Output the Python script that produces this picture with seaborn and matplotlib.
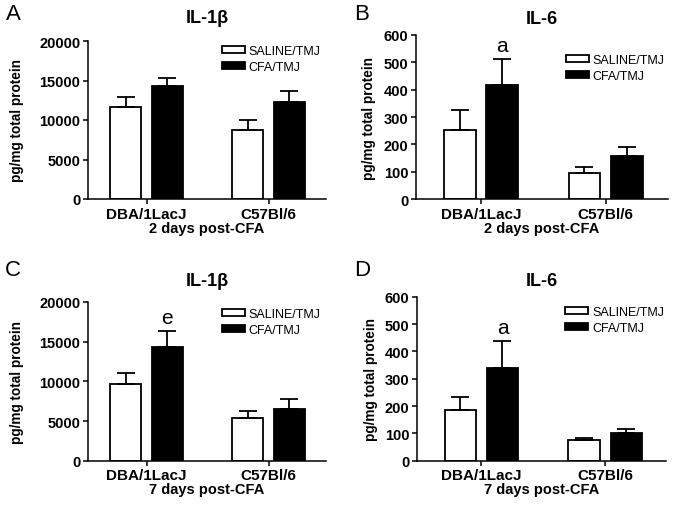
import seaborn as sns
import matplotlib.pyplot as plt
import pandas as pd

# datos
grupos = ["DBA/1LacJ", "C57Bl/6"]
tratamientos = ["SALINE/TMJ", "CFA/TMJ"]

il1b_2d_saline = [11700, 8750]
il1b_2d_saline_err = [1150, 1300]
il1b_2d_cfa = [14250, 12300]
il1b_2d_cfa_err = [1100, 1400]

il6_2d_saline = [253, 96]
il6_2d_saline_err = [74, 23]
il6_2d_cfa = [417, 157]
il6_2d_cfa_err = [94, 35]

il1b_7d_saline = [9700, 5380]
il1b_7d_saline_err = [1390, 920]
il1b_7d_cfa = [14330, 6550]
il1b_7d_cfa_err = [1980, 1190]

il6_7d_saline = [187, 77]
il6_7d_saline_err = [46, 7]
il6_7d_cfa = [340, 101]
il6_7d_cfa_err = [99, 16]

sns.set_style("ticks")
plt.rcParams["font.family"] = ["Liberation Sans", "DejaVu Sans"]
plt.rcParams["text.color"] = "black"
plt.rcParams["axes.labelcolor"] = "black"

fig = plt.figure(figsize=(6.74, 5.06), dpi=100)


def tabla(saline, cfa):
    filas = []
    for g, v in zip(grupos, saline):
        filas.append({"grupo": g, "trat": tratamientos[0], "valor": v})
    for g, v in zip(grupos, cfa):
        filas.append({"grupo": g, "trat": tratamientos[1], "valor": v})
    return pd.DataFrame(filas)


paneles = [
    # letra, titulo, saline, err, cfa, err, ymax, paso, xlabel, marca, rect, xlim, legend xy, pad titulo, ylabel x
    ("A", "IL-1\u03b2", il1b_2d_saline, il1b_2d_saline_err, il1b_2d_cfa, il1b_2d_cfa_err,
     20000, 5000, "2 days post-CFA", None,
     [88, 200, 238, 158], (-0.48, 1.47), (0.563, 0.975), 13.5, -0.27),
    ("B", "IL-6", il6_2d_saline, il6_2d_saline_err, il6_2d_cfa, il6_2d_cfa_err,
     600, 100, "2 days post-CFA", "a",
     [416, 200.3, 252, 164.6], (-0.52, 1.5), (0.595, 0.885), 8.4, -0.16),
    ("C", "IL-1\u03b2", il1b_7d_saline, il1b_7d_saline_err, il1b_7d_cfa, il1b_7d_cfa_err,
     20000, 5000, "7 days post-CFA", "e",
     [88, 461.7, 238, 158.7], (-0.48, 1.47), (0.563, 0.965), 12.5, -0.27),
    ("D", "IL-6", il6_7d_saline, il6_7d_saline_err, il6_7d_cfa, il6_7d_cfa_err,
     600, 100, "7 days post-CFA", "a",
     [417, 461.7, 249, 164], (-0.52, 1.49), (0.595, 0.945), 8.2, -0.155),
]

W, H = 674, 506
for (letra, titulo, sal, sal_e, cfa, cfa_e, ymax, paso, xlab, marca,
     r, xlim, leg_xy, tpad, ylx) in paneles:
    ax = fig.add_axes([r[0] / W, 1 - r[1] / H, r[2] / W, r[3] / H])
    df = tabla(sal, cfa)
    sns.barplot(data=df, x="grupo", y="valor", hue="trat", hue_order=tratamientos,
                palette=["white", "black"], edgecolor="black", linewidth=1.3,
                width=0.68, gap=0.25, errorbar=None, legend=False, ax=ax)

    # barras de error (solo hacia arriba)
    for cont, errs in zip(ax.containers, [sal_e, cfa_e]):
        for barra, e in zip(cont.patches, errs):
            xc = barra.get_x() + barra.get_width() / 2
            ax.errorbar(xc, barra.get_height(), yerr=[[0], [e]], fmt="none",
                        ecolor="black", elinewidth=1.3, capsize=6.5, capthick=1.3,
                        zorder=1)
    if marca:
        barra = ax.containers[1].patches[0]
        xc = barra.get_x() + barra.get_width() / 2
        ax.annotate(marca, (xc, barra.get_height() + cfa_e[0]), xytext=(0, 3),
                    textcoords="offset points", ha="center", va="bottom",
                    fontsize=15)

    ax.set_xlim(*xlim)
    ax.set_ylim(0, ymax)
    ax.set_yticks(range(0, ymax + 1, paso))
    sns.despine(ax=ax)
    for s in ["left", "bottom"]:
        ax.spines[s].set_linewidth(1.1)
        ax.spines[s].set_color("black")
    ax.tick_params(length=3.5, width=1.1, pad=2, labelsize=10.5, colors="black")
    ax.tick_params(axis="x", labelsize=11)
    for t in ax.get_xticklabels() + ax.get_yticklabels():
        t.set_fontweight("bold")
    ax.set_xlabel(xlab, fontsize=10.5, fontweight="bold", labelpad=0)
    ax.set_ylabel("pg/mg total protein", fontsize=9.8, fontweight="bold")
    ax.yaxis.set_label_coords(ylx, 0.5)
    ax.set_title(titulo, fontsize=13, fontweight="bold", pad=tpad)

    ax.legend(handles=list(ax.containers), labels=tratamientos, loc="upper left",
              bbox_to_anchor=leg_xy, frameon=False, fontsize=9, borderpad=0,
              borderaxespad=0, handlelength=1.85, handleheight=0.5,
              handletextpad=0.3, labelspacing=0.35)

    # letra del panel
    lx = 13 if letra in "AC" else 362
    ly = 15 if letra in "AB" else 270
    fig.text(lx / W, 1 - ly / H, letra, fontsize=16, ha="center", va="center")

fig.savefig("out.png", dpi=100)
